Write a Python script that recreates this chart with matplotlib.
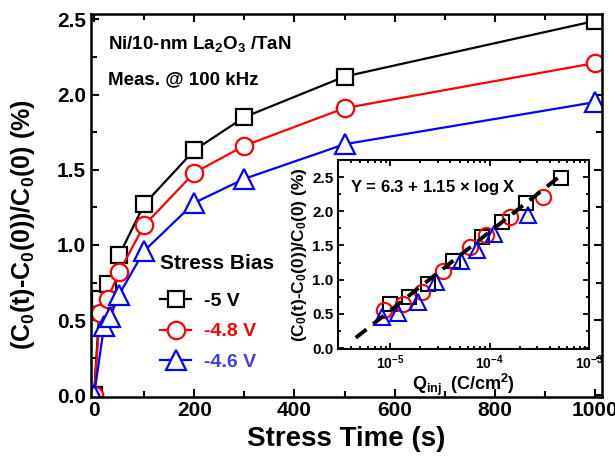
import matplotlib
matplotlib.use("Agg")
import matplotlib.pyplot as plt
import numpy as np
from matplotlib.ticker import MultipleLocator, LogLocator, NullFormatter

plt.rcParams['font.family'] = ['Liberation Sans', 'DejaVu Sans']
plt.rcParams['font.weight'] = 'bold'
plt.rcParams['axes.labelweight'] = 'bold'
plt.rcParams['mathtext.fontset'] = 'custom'
plt.rcParams['mathtext.rm'] = 'Liberation Sans:bold'
plt.rcParams['mathtext.it'] = 'Liberation Sans:bold'
plt.rcParams['mathtext.bf'] = 'Liberation Sans:bold'

# stress time (s) and capacitance change (%) for each gate bias
t_5v = [0, 12, 28, 50, 100, 200, 300, 500, 1000]
dc_5v = [0, 0.64, 0.74, 0.93, 1.27, 1.63, 1.85, 2.12, 2.49]
t_48v = [0, 12, 27, 50, 100, 200, 300, 500, 1000]
dc_48v = [0, 0.55, 0.64, 0.82, 1.13, 1.48, 1.66, 1.91, 2.21]
t_46v = [0, 20, 32, 50, 100, 200, 300, 500, 1000]
dc_46v = [0, 0.46, 0.52, 0.67, 0.96, 1.28, 1.44, 1.67, 1.95]

# injected charge (C/cm^2) for the nonzero points
q_5v = [1.0e-5, 1.55e-5, 2.4e-5, 4.3e-5, 8.3e-5, 1.32e-4, 2.3e-4, 5.2e-4]
q_48v = [8.7e-6, 1.35e-5, 2.1e-5, 3.4e-5, 6.3e-5, 9.2e-5, 1.6e-4, 3.4e-4]
q_46v = [8.3e-6, 1.2e-5, 1.9e-5, 2.9e-5, 5.2e-5, 7.5e-5, 1.1e-4, 2.4e-4]

# log fit Y = a + b*log10(X)
fit_a, fit_b = 6.3, 1.15
fit_q = [4.5e-6, 5.2e-4]

labels = ['-5 V', '-4.8 V', '-4.6 V']
colors = ['black', 'red', 'blue']
text_colors = ['black', 'red', '#3c3cf5']
markers = ['s', 'o', '^']

fig = plt.figure(figsize=(6.15, 4.57), dpi=100)
ax = fig.add_axes([0.148, 0.131, 0.831, 0.838])

main_sizes = [12, 12.5, 14]
for t, d, c, m, lab, ms in zip([t_5v, t_48v, t_46v], [dc_5v, dc_48v, dc_46v],
                               colors, markers, labels, main_sizes):
    ax.plot(t, d, color=c, marker=m, ms=ms, mfc='white', mec=c, mew=1.6,
            lw=1.6, label=lab)

ax.set_xlim(-6, 1014)
ax.set_ylim(-0.012, 2.535)
ax.xaxis.set_major_locator(MultipleLocator(200))
ax.xaxis.set_minor_locator(MultipleLocator(100))
ax.yaxis.set_major_locator(MultipleLocator(0.5))
ax.yaxis.set_minor_locator(MultipleLocator(0.25))
ax.yaxis.set_major_formatter(plt.FormatStrFormatter('%.1f'))
ax.tick_params(which='both', direction='in', top=True, right=True, width=1.5,
               labelsize=15)
ax.tick_params(which='major', length=6)
ax.tick_params(which='minor', length=4)
ax.tick_params(axis='x', pad=3)
for sp in ax.spines.values():
    sp.set_linewidth(1.8)

ax.set_xlabel('Stress Time (s)', fontsize=20, labelpad=4)
ax.set_ylabel(r'(C$_0$(t)-C$_0$(0))/C$_0$(0) (%)', fontsize=18)
ax.yaxis.set_label_coords(-0.105, 0.45)

ax.text(0.033, 0.922, r'Ni/10-nm La$_2$O$_3$ /TaN', transform=ax.transAxes,
        fontsize=13.5, va='center')
ax.text(0.033, 0.828, 'Meas. @ 100 kHz', transform=ax.transAxes,
        fontsize=13.5, va='center')

leg = ax.legend(loc='upper left', bbox_to_anchor=(0.135, 0.375), frameon=False,
                title='Stress Bias', alignment='left', fontsize=14,
                title_fontsize=15, handlelength=1.6, handletextpad=0.65,
                labelspacing=0.68, borderaxespad=0, borderpad=0)
leg._legend_box.sep = 14
for txt, tc in zip(leg.get_texts(), text_colors):
    txt.set_color(tc)

# inset: same data against injected charge
ins = fig.add_axes([0.550, 0.236, 0.408, 0.414])
ins_sizes = [10, 11, 12]
for q, d, c, m, ms in zip([q_5v, q_48v, q_46v], [dc_5v, dc_48v, dc_46v],
                          colors, markers, ins_sizes):
    ins.plot(q, d[1:], ls='none', marker=m, ms=ms, mfc='none', mec=c, mew=1.5)

fq = np.array(fit_q)
ins.plot(fq, fit_a + fit_b * np.log10(fq), color='black', lw=2.8,
         ls=(0, (3.5, 2.2)), zorder=5)

ins.set_xscale('log')
ins.set_xlim(3e-6, 1e-3)
ins.set_ylim(-0.015, 2.75)
ins.xaxis.set_major_locator(LogLocator(base=10, numticks=10))
ins.xaxis.set_minor_locator(LogLocator(base=10, subs=np.arange(2, 10), numticks=10))
ins.xaxis.set_minor_formatter(NullFormatter())
ins.yaxis.set_major_locator(MultipleLocator(0.5))
ins.yaxis.set_minor_locator(MultipleLocator(0.25))
ins.yaxis.set_major_formatter(plt.FormatStrFormatter('%.1f'))
ins.tick_params(which='both', direction='in', top=True, right=True, width=1.3)
ins.tick_params(which='major', length=4.5)
ins.tick_params(which='minor', length=2.5)
ins.tick_params(axis='y', labelsize=11)
ins.tick_params(axis='x', labelsize=10, pad=3)
for sp in ins.spines.values():
    sp.set_linewidth(1.5)

ins.set_xlabel(r'$\mathrm{Q_{inj}\;\;(C/cm^2)}$', fontsize=13, labelpad=0)
ins.set_ylabel(r'(C$_0$(t)-C$_0$(0))/C$_0$(0) (%)', fontsize=12.5, labelpad=2)
ins.text(0.048, 0.857, r'Y = 6.3 + 1.15 $\times$ log X', transform=ins.transAxes,
         fontsize=12, va='center')

fig.savefig('out.png', dpi=100)
